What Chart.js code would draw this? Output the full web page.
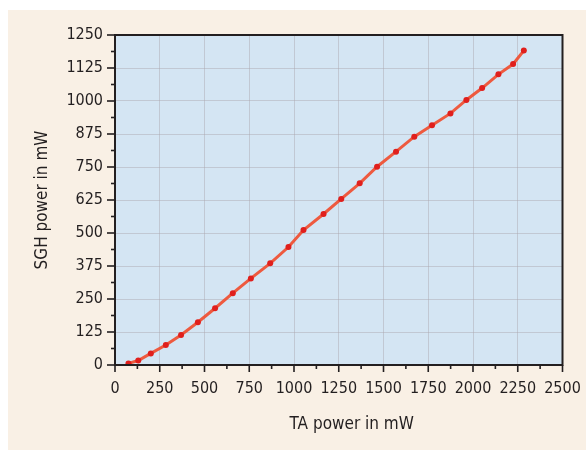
<!DOCTYPE html>
<html>
<head>
<meta charset="utf-8">
<script src="https://cdn.jsdelivr.net/npm/chart.js@4/dist/chart.umd.min.js"></script>
<style>
  html, body { margin: 0; padding: 0; background: #fff; }
  #wrap { width: 586px; height: 450px; }
</style>
</head>
<body>
<div id="wrap"><canvas id="chart" width="586" height="450"></canvas></div>
<script>
// ======= DADOS =======
const taPower = [75, 130, 200, 284, 369, 463, 559, 658, 759, 867, 969, 1053, 1165,
  1264, 1367, 1464, 1570, 1672, 1771, 1874, 1963, 2051, 2142, 2224, 2284];
const sghPower = [6, 17, 44, 76, 114, 162, 215, 272, 328, 385, 447, 511, 572,
  629, 688, 751, 808, 865, 908, 953, 1004, 1049, 1101, 1140, 1191];
const xTickLabels = [0, 250, 500, 750, 1000, 1250, 1500, 1750, 2000, 2250, 2500];
const yTickLabels = [0, 125, 250, 375, 500, 625, 750, 875, 1000, 1125, 1250];
const xTitle = "TA power in mW";
const yTitle = "SGH power in mW";

const FONT = "'Liberation Sans Narrow', 'DejaVu Sans Condensed', sans-serif";
const INK = "#231f20";
const GRID = "rgba(170, 165, 172, 0.45)";
const isMajor = (list, v) => list.some(m => Math.abs(m - v) < 1e-6);

// ======= FUNDO, BORDA, TRAÇOS =======
const decor = {
  id: "decor",
  beforeDraw(chart) {
    const { ctx, chartArea: a } = chart;
    ctx.save();
    ctx.fillStyle = "#ffffff";
    ctx.fillRect(0, 0, chart.width, chart.height);
    ctx.fillStyle = "#f9f0e5";
    ctx.fillRect(8, 10, chart.width - 8, chart.height - 10);
    ctx.fillStyle = "#d4e5f3";
    ctx.fillRect(a.left, a.top, a.right - a.left, a.bottom - a.top);
    ctx.restore();
  },
  afterDraw(chart) {
    const { ctx, chartArea: a, scales } = chart;
    ctx.save();
    ctx.strokeStyle = INK;
    ctx.lineWidth = 2;
    ctx.strokeRect(a.left, a.top, a.right - a.left, a.bottom - a.top);

    // traços maiores e menores
    ctx.lineWidth = 1.6;
    scales.y.ticks.forEach(t => {
      const py = scales.y.getPixelForValue(t.value);
      const len = isMajor(yTickLabels, t.value) ? 8 : 4;
      ctx.beginPath();
      ctx.moveTo(a.left - len, py);
      ctx.lineTo(a.left, py);
      ctx.stroke();
    });
    scales.x.ticks.forEach(t => {
      const px = scales.x.getPixelForValue(t.value);
      const len = isMajor(xTickLabels, t.value) ? 7 : 4;
      ctx.beginPath();
      ctx.moveTo(px, a.bottom);
      ctx.lineTo(px, a.bottom + len);
      ctx.stroke();
    });

    // título do eixo X (um pouco deslocado para a direita, como no original)
    ctx.fillStyle = INK;
    ctx.font = "17px " + FONT;
    ctx.textAlign = "center";
    ctx.textBaseline = "middle";
    ctx.fillText(xTitle, (a.left + a.right) / 2 + 13, 425);
    ctx.restore();
  }
};

// ======= GRÁFICO =======
new Chart(document.getElementById("chart"), {
  type: "scatter",
  data: {
    datasets: [{
      data: taPower.map((x, i) => ({ x, y: sghPower[i] })),
      showLine: true,
      borderColor: "rgba(240, 78, 48, 0.92)",
      borderWidth: 3,
      pointRadius: 3,
      pointBorderWidth: 0,
      pointBackgroundColor: "#e01f1c",
      tension: 0
    }]
  },
  options: {
    responsive: false,
    animation: false,
    layout: { padding: { left: 8, top: 35, right: 23.5, bottom: 9 } },
    plugins: { legend: { display: false }, tooltip: { enabled: false } },
    scales: {
      x: {
        type: "linear",
        min: 0, max: 2500,
        afterBuildTicks(scale) {
          const t = [];
          for (let v = 0; v <= 2500; v += 125) t.push({ value: v });
          scale.ticks = t;
        },
        afterFit(scale) {
          scale.height = 76;
          scale.paddingLeft = 0;
          scale.paddingRight = 0;
        },
        border: { display: false },
        grid: {
          drawTicks: false,
          lineWidth: 1,
          color: c => (c.tick && isMajor(xTickLabels, c.tick.value)) ? GRID : "rgba(0,0,0,0)"
        },
        ticks: {
          padding: 14,
          color: INK,
          font: { family: FONT, size: 16 },
          maxRotation: 0,
          autoSkip: false,
          callback: v => isMajor(xTickLabels, v) ? String(v) : ""
        }
      },
      y: {
        type: "linear",
        min: 0, max: 1250,
        afterBuildTicks(scale) {
          const t = [];
          for (let v = 0; v <= 1250; v += 62.5) t.push({ value: v });
          scale.ticks = t;
        },
        afterFit(scale) {
          scale.width = 107;
          scale.paddingTop = 0;
          scale.paddingBottom = 0;
        },
        border: { display: false },
        grid: {
          drawTicks: false,
          lineWidth: 1,
          color: c => (c.tick && isMajor(yTickLabels, c.tick.value)) ? GRID : "rgba(0,0,0,0)"
        },
        ticks: {
          padding: 12,
          color: INK,
          font: { family: FONT, size: 16 },
          autoSkip: false,
          callback: v => isMajor(yTickLabels, v) ? String(v) : ""
        },
        title: {
          display: true,
          text: yTitle,
          color: INK,
          font: { family: FONT, size: 17 },
          padding: { top: 24, bottom: 0 }
        }
      }
    }
  },
  plugins: [decor]
});
</script>
</body>
</html>
